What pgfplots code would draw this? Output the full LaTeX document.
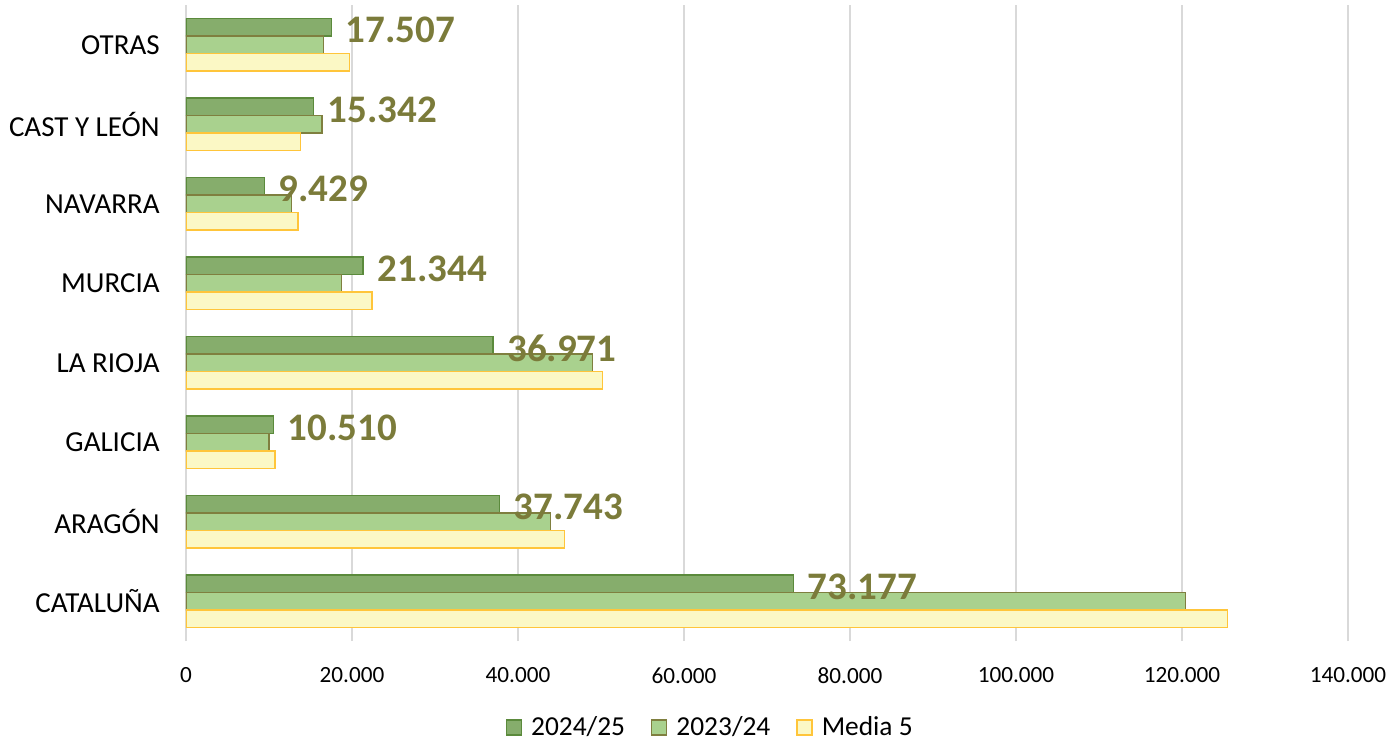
\documentclass[border=0pt]{standalone}
\usepackage{pgfplots}
\pgfplotsset{compat=1.18}
\usepackage{fontspec}
\setmainfont{Carlito}
\definecolor{dkfill}{HTML}{86AD6C}
\definecolor{dkdraw}{HTML}{5B8A3C}
\definecolor{ltfill}{HTML}{A9D18E}
\definecolor{ltdraw}{HTML}{7F7F3F}
\definecolor{ylfill}{HTML}{FBF8C5}
\definecolor{yldraw}{HTML}{FFC53A}
\definecolor{lblcol}{HTML}{7B7B3A}
\begin{document}
\begin{tikzpicture}
\useasboundingbox (-93pt,-51pt) rectangle (604.5pt,320.5pt);
\begin{axis}[
  scale only axis,
  width=581pt, height=318pt,
  xbar, bar width=8.75pt,
  xmin=0, xmax=140000,
  ymin=-0.5, ymax=7.5,
  xtick={0,20000,40000,60000,80000,100000,120000,140000},
  scaled x ticks=false,
  xticklabel={\pgfmathprintnumber[fixed,1000 sep={.}]{\tick}},
  /pgf/number format/assume math mode=true,
  ytick={0,1,2,3,4,5,6,7},
  yticklabels={CATALUÑA,ARAGÓN,GALICIA,LA RIOJA,MURCIA,NAVARRA,CAST Y LEÓN,OTRAS},
  xmajorgrids, major grid style={draw=black!15, line width=0.6pt},
  axis line style={draw=none},
  major tick length=0pt,
  tick style={draw=none},
  yticklabel style={font=\fontsize{14.5}{16}\selectfont, inner sep=0pt, xshift=-13pt},
  xticklabel style={font=\fontsize{11.6}{13}\selectfont, inner sep=0pt, yshift=-13pt},
  legend style={at={(axis description cs:0.452,-0.136)}, anchor=center, draw=none,
    font=\fontsize{13.7}{15}\selectfont, legend columns=3,
    /tikz/every odd column/.append style={column sep=2.5pt},
    /tikz/every even column/.append style={column sep=11pt}},
  legend image code/.code={\draw[#1, bar shift=0pt] (0pt,-3.75pt) rectangle (7.5pt,3.75pt);},
]
\addplot[fill=dkfill, draw=dkdraw, line width=0.7pt, bar shift=8.75pt] coordinates {
  (73177,0) (37743,1) (10510,2) (36971,3) (21344,4) (9429,5) (15342,6) (17507,7)};
\addplot[fill=ltfill, draw=ltdraw, line width=0.7pt, bar shift=0pt] coordinates {
  (120400,0) (43900,1) (10000,2) (49000,3) (18700,4) (12700,5) (16400,6) (16600,7)};
\addplot[fill=ylfill, draw=yldraw, line width=0.7pt, bar shift=-8.75pt] coordinates {
  (125500,0) (45600,1) (10700,2) (50200,3) (22400,4) (13500,5) (13800,6) (19700,7)};
\legend{2024/25,2023/24,Media 5}
\addplot[draw=none, fill=none, bar shift=8.75pt, forget plot,
  nodes near coords={\pgfmathprintnumber[fixed,1000 sep={.}]{\pgfplotspointmeta}},
  nodes near coords style={anchor=west, xshift=7pt, yshift=-1.5pt, inner sep=0pt,
    text=lblcol, font=\fontsize{19.5}{21}\selectfont\bfseries},
  point meta=x] coordinates {
  (73177,0) (37743,1) (10510,2) (36971,3) (21344,4) (9429,5) (15342,6) (17507,7)};
\end{axis}
\end{tikzpicture}
\end{document}
